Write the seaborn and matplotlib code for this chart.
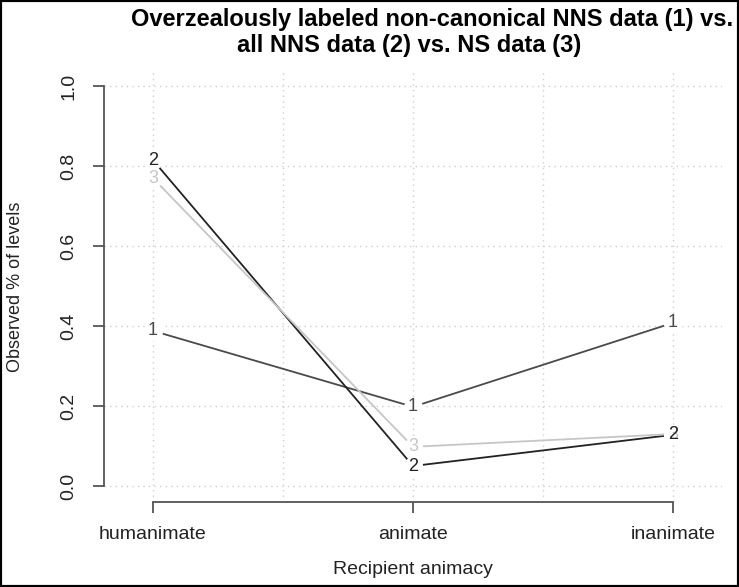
"""Interaction plot: recipient animacy across three data sets."""

import matplotlib

matplotlib.use("Agg")

import matplotlib.pyplot as plt
import pandas as pd
import seaborn as sns

categorias = ["humanimate", "animate", "inanimate"]
serie_1 = [0.388, 0.198, 0.408]  # overzealously labeled non-canonical NNS
serie_2 = [0.815, 0.050, 0.128]  # all NNS
serie_3 = [0.770, 0.098, 0.130]  # NS
etiquetas = ["1", "2", "3"]
colores = ["#4a4a4a", "#222222", "#c6c6c6"]
y_ticks = [0.0, 0.2, 0.4, 0.6, 0.8, 1.0]

df = pd.DataFrame(
    {
        "animacy": categorias * 3,
        "valor": serie_1 + serie_2 + serie_3,
        "serie": [e for e in etiquetas for _ in categorias],
    }
)

sns.set_style("white")
plt.rcParams["font.family"] = ["Liberation Sans", "DejaVu Sans"]

fig = plt.figure(figsize=(7.39, 5.87), dpi=100)
ax = fig.add_axes([0.1407, 0.1448, 0.8363, 0.7325])

sns.lineplot(
    data=df,
    x="animacy",
    y="valor",
    hue="serie",
    palette=dict(zip(etiquetas, colores)),
    sort=False,
    marker="o",
    markersize=13,
    markerfacecolor="white",
    markeredgecolor="white",
    linewidth=1.3,
    legend=False,
    ax=ax,
    zorder=3,
)

# etiquetas de los puntos (estilo type="b" de R)
orden_z = {"1": 5, "2": 6, "3": 5}
for etiqueta, valores, color in zip(etiquetas, [serie_1, serie_2, serie_3], colores):
    for i, v in enumerate(valores):
        ax.text(i, v, etiqueta, color=color, fontsize=13, ha="center",
                va="center", zorder=orden_z[etiqueta])

ax.set_xlim(-0.188, 2.188)
ax.set_ylim(-0.04, 1.035)
ax.set_xticks(range(len(categorias)))
ax.set_xticks([0.5, 1.5], minor=True)
ax.set_xticklabels(categorias, fontsize=14)
ax.set_yticks(y_ticks)
ax.set_yticklabels([f"{t:.1f}" for t in y_ticks], fontsize=14)
for lab in ax.get_yticklabels():
    lab.set_rotation(90)
    lab.set_va("center")

grid_kw = dict(color="#cfcfcf", linestyle=(0, (1, 3)), linewidth=1.0)
ax.grid(axis="x", which="both", **grid_kw)
ax.grid(axis="y", which="major", **grid_kw)
ax.set_axisbelow(True)

for lado in ["top", "right"]:
    ax.spines[lado].set_visible(False)
ax.spines["left"].set_bounds(0, 1)
ax.spines["bottom"].set_bounds(0, 2)
for lado in ["left", "bottom"]:
    ax.spines[lado].set_color("#555555")
    ax.spines[lado].set_linewidth(1.3)

ax.tick_params(axis="both", which="major", direction="out", length=8,
               width=1.3, color="#555555", labelcolor="#222222",
               left=True, bottom=True)
ax.tick_params(axis="x", which="minor", length=0, bottom=False)
ax.tick_params(axis="x", which="major", pad=9)
ax.tick_params(axis="y", which="major", pad=11)

ax.set_xlabel("Recipient animacy", fontsize=14, color="#222222", labelpad=13)
ax.set_ylabel("Observed % of levels", fontsize=13, color="#222222")
ax.yaxis.set_label_coords(-0.129, 0.5)

fig.text(0.585, 0.9557, "Overzealously labeled non-canonical NNS data (1) vs.",
         fontsize=17, fontweight="bold", ha="center", va="baseline",
         color="black")
fig.text(0.5535, 0.912, "all NNS data (2) vs. NS data (3)",
         fontsize=17, fontweight="bold", ha="center", va="baseline",
         color="black")

fig.add_artist(plt.Rectangle((0, 0), 1, 1, transform=fig.transFigure,
                             fill=False, edgecolor="black", linewidth=3))

fig.savefig("out.png", dpi=100)
